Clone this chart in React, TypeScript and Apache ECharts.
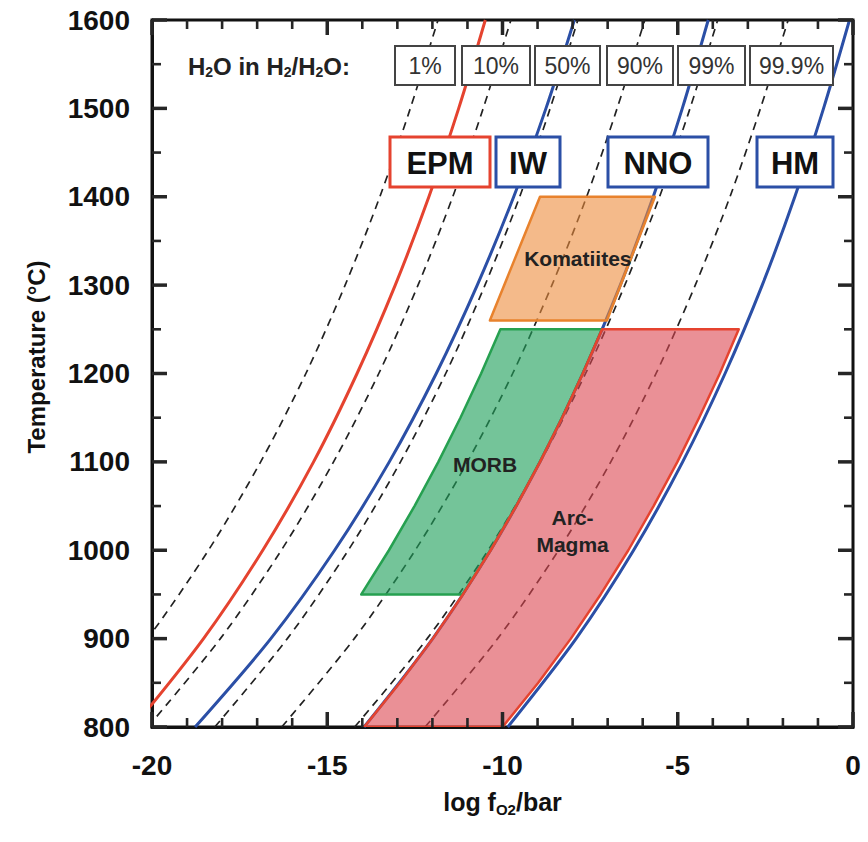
import React, { useEffect, useRef } from "react";
import * as echarts from "echarts";

// Temperatures (°C) at which the curves are read
const temps = [800, 900, 1000, 1100, 1200, 1300, 1400, 1500, 1600];

// Oxygen buffers, log fO2 (bar)
const epm = [-20.53, -18.53, -16.84, -15.39, -14.15, -13.06, -12.1, -11.25, -10.49];
const iw = [-18.77, -16.61, -14.79, -13.23, -11.89, -10.72, -9.68, -8.76, -7.95];
const nno = [-13.95, -11.99, -10.34, -8.93, -7.71, -6.64, -5.7, -4.87, -4.13];
const hm = [-9.85, -7.9, -6.26, -4.86, -3.65, -2.59, -1.66, -0.84, -0.1];

// H2O in H2/H2O isopleths, log fO2 (bar)
const h2o1 = [-22.2, -20.13, -18.39, -16.9, -15.61, -14.49, -13.5, -12.63, -11.84];
const h2o10 = [-20.12, -18.05, -16.31, -14.82, -13.53, -12.41, -11.42, -10.55, -9.76];
const h2o50 = [-18.21, -16.14, -14.4, -12.91, -11.62, -10.5, -9.51, -8.64, -7.85];
const h2o90 = [-16.3, -14.23, -12.49, -11.0, -9.71, -8.59, -7.6, -6.73, -5.94];
const h2o99 = [-14.22, -12.15, -10.41, -8.92, -7.63, -6.51, -5.52, -4.65, -3.86];
const h2o999 = [-12.21, -10.14, -8.4, -6.91, -5.62, -4.5, -3.51, -2.64, -1.85];

// Magma fields: [log fO2, T]
const komatiites = [
  [-8.93, 1400],
  [-5.65, 1400],
  [-7.02, 1260],
  [-10.36, 1260],
];
const morb = [
  [-10.06, 1250],
  [-7.16, 1250],
  [-7.71, 1200],
  [-8.3, 1150],
  [-8.93, 1100],
  [-9.61, 1050],
  [-10.34, 1000],
  [-11.13, 950],
  [-14.03, 950],
  [-13.24, 1000],
  [-12.51, 1050],
  [-11.83, 1100],
  [-11.2, 1150],
  [-10.61, 1200],
];
const arcMagma = [
  [-7.16, 1250],
  [-3.26, 1250],
  [-3.8, 1200],
  [-4.39, 1150],
  [-5.01, 1100],
  [-5.69, 1050],
  [-6.41, 1000],
  [-7.2, 950],
  [-8.05, 900],
  [-8.98, 850],
  [-10.0, 800],
  [-13.95, 800],
  [-12.93, 850],
  [-11.99, 900],
  [-11.13, 950],
  [-10.34, 1000],
  [-9.61, 1050],
  [-8.93, 1100],
  [-8.3, 1150],
  [-7.71, 1200],
];

const fieldLabels = ["Komatiites", "MORB", "Arc-\nMagma"];
const fieldLabelPos = [
  [-7.85, 1330],
  [-10.5, 1097],
  [-8.0, 1022],
];

// Tick values
const xMajorTicks = [-20, -15, -10, -5, 0];
const xMinorTicks = [-19, -18, -17, -16, -14, -13, -12, -11, -9, -8, -7, -6, -4, -3, -2, -1];
const yMajorTicks = [800, 900, 1000, 1100, 1200, 1300, 1400, 1500, 1600];
const yMinorTicks = [850, 950, 1050, 1150, 1250, 1350, 1450, 1550];

const h2oLabels = ["1%", "10%", "50%", "90%", "99%", "99.9%"];
const bufferLabels = ["EPM", "IW", "NNO", "HM"];

const RED = "#e5432f";
const BLUE = "#2b4fa6";
const INK = "#111";
const TICK = "#262626";
const FONT = "'Liberation Sans', Arial, sans-serif";

const toXY = (arr: number[]) => temps.map((t, i) => [arr[i], t]);

export default function App() {
  const ref = useRef<HTMLDivElement>(null);
  useEffect(() => {
    document.body.style.margin = "0";
    const chart = echarts.init(ref.current!, null, { renderer: "svg" });

    const bufferLine = (name: string, arr: number[], color: string) => ({
      type: "line",
      name,
      data: toXY(arr),
      smooth: 0.3,
      symbol: "none",
      clip: true,
      z: 3,
      lineStyle: { color, width: 3 },
    });
    const dashLine = (name: string, arr: number[]) => ({
      type: "line",
      name,
      data: toXY(arr),
      smooth: 0.3,
      symbol: "none",
      clip: true,
      z: 2,
      lineStyle: { color: "#222", width: 1.7, type: [8, 6] },
    });
    const field = (name: string, pts: number[][], fill: string, stroke: string) => ({
      type: "custom",
      name,
      coordinateSystem: "cartesian2d",
      clip: true,
      z: 4,
      data: [pts[0]],
      renderItem: (_p: any, api: any) => ({
        type: "polygon",
        shape: { points: pts.map((p) => api.coord(p)) },
        style: { fill, stroke, lineWidth: 2.5, lineJoin: "round" },
      }),
    });

    // ticks on all four frame edges, placed through the axes' scales
    const tickSeries = {
      type: "custom",
      name: "ticks",
      coordinateSystem: "cartesian2d",
      z: 10,
      data: [[-10, 1200]],
      renderItem: (_p: any, api: any) => {
        const children: any[] = [];
        const seg = (x1: number, y1: number, x2: number, y2: number, w: number) => {
          children.push({
            type: "line",
            shape: { x1, y1, x2, y2 },
            style: { stroke: TICK, lineWidth: w },
          });
        };
        const xt = (v: number, len: number, w: number) => {
          const t = api.coord([v, 1600]);
          const b = api.coord([v, 800]);
          seg(t[0], t[1], t[0], t[1] + len, w);
          seg(b[0], b[1], b[0], b[1] - len, w);
        };
        const yt = (v: number, len: number, w: number) => {
          const r = api.coord([0, v]);
          const l = api.coord([-20, v]);
          seg(r[0], r[1], r[0] - len, r[1], w);
          seg(l[0], l[1], l[0] + len, l[1], w);
        };
        xMajorTicks.forEach((v) => xt(v, 15, 3.5));
        xMinorTicks.forEach((v) => xt(v, 9, 2.6));
        yMajorTicks.forEach((v) => yt(v, 15, 3.5));
        yMinorTicks.forEach((v) => yt(v, 9, 2.6));
        return { type: "group", children };
      },
    };

    const h2oBoxX = [395, 462, 535, 607, 678, 750];
    const h2oBoxW = [60, 68, 65, 66, 67, 83];
    const bufX = [390, 496, 608, 757];
    const bufW = [100, 64, 100, 76];
    const bufColor = [RED, BLUE, BLUE, BLUE];

    const graphics: any[] = [];
    h2oLabels.forEach((l, i) => {
      graphics.push({
        type: "rect",
        z: 100,
        shape: { x: h2oBoxX[i], y: 46, width: h2oBoxW[i], height: 39 },
        style: { fill: "#fff", stroke: "#444", lineWidth: 2 },
      });
      graphics.push({
        type: "text",
        z: 101,
        x: h2oBoxX[i] + h2oBoxW[i] / 2,
        y: 66,
        style: {
          text: l,
          fill: "#333",
          font: `23px ${FONT}`,
          align: "center",
          verticalAlign: "middle",
        },
      });
    });
    graphics.push({
      type: "text",
      z: 101,
      x: 188,
      y: 66,
      style: {
        text: "H{s|2}O in H{s|2}/H{s|2}O:",
        fill: "#222",
        fontFamily: FONT,
        fontWeight: "bold",
        fontSize: 24,
        verticalAlign: "middle",
        rich: {
          s: { fontSize: 14, fontWeight: "bold", fontFamily: FONT, padding: [12, 0, 0, 0] },
        },
      },
    });
    graphics.push({
      type: "text",
      z: 101,
      x: 36,
      y: 357,
      rotation: Math.PI / 2,
      style: {
        text: "Temperature (°C)",
        fill: INK,
        fontFamily: FONT,
        fontWeight: "bold",
        fontSize: 24,
        align: "center",
        verticalAlign: "middle",
      },
    });
    bufferLabels.forEach((l, i) => {
      graphics.push({
        type: "rect",
        z: 100,
        shape: { x: bufX[i], y: 137, width: bufW[i], height: 50 },
        style: { fill: "#fff", stroke: bufColor[i], lineWidth: 3 },
      });
      graphics.push({
        type: "text",
        z: 101,
        x: bufX[i] + bufW[i] / 2,
        y: 163,
        style: {
          text: l,
          fill: INK,
          fontFamily: FONT,
          fontWeight: "bold",
          fontSize: 31,
          align: "center",
          verticalAlign: "middle",
        },
      });
    });

    chart.setOption({
      animation: false,
      grid: {
        left: 152,
        right: 15,
        top: 20,
        bottom: 115,
        show: true,
        borderColor: INK,
        borderWidth: 3,
        backgroundColor: "transparent",
      },
      xAxis: {
        type: "value",
        position: "bottom",
        min: -20,
        max: 0,
        interval: 5,
        axisLine: { show: true, onZero: false, lineStyle: { color: INK, width: 3 } },
        axisTick: { show: false },
        minorTick: { show: false },
        splitLine: { show: false },
        axisLabel: {
          color: INK,
          fontFamily: FONT,
          fontWeight: "bold",
          fontSize: 28,
          margin: 24,
          formatter: (v: number) => String(v),
        },
        name: "log f{sub|O2}/bar",
        nameLocation: "middle",
        nameGap: 60,
        nameTextStyle: {
          color: INK,
          fontFamily: FONT,
          fontWeight: "bold",
          fontSize: 25,
          rich: {
            sub: { fontFamily: FONT, fontWeight: "bold", fontSize: 15, padding: [15, 0, 0, 0] },
          },
        },
      },
      yAxis: {
        type: "value",
        position: "left",
        min: 800,
        max: 1600,
        interval: 100,
        axisLine: { show: true, onZero: false, lineStyle: { color: INK, width: 3 } },
        axisTick: { show: false },
        minorTick: { show: false },
        splitLine: { show: false },
        axisLabel: {
          color: INK,
          fontFamily: FONT,
          fontWeight: "bold",
          fontSize: 28,
          margin: 22,
          formatter: (v: number) => String(v),
        },
      },
      series: [
        dashLine("1%", h2o1),
        dashLine("10%", h2o10),
        dashLine("50%", h2o50),
        dashLine("90%", h2o90),
        dashLine("99%", h2o99),
        dashLine("99.9%", h2o999),
        bufferLine("EPM", epm, RED),
        bufferLine("IW", iw, BLUE),
        bufferLine("NNO", nno, BLUE),
        bufferLine("HM", hm, BLUE),
        field("Komatiites", komatiites, "rgba(236,140,60,0.6)", "#e8822d"),
        field("MORB", morb, "rgba(30,160,90,0.62)", "#26a050"),
        field("Arc-Magma", arcMagma, "rgba(220,70,80,0.6)", RED),
        {
          type: "custom",
          name: "labels",
          coordinateSystem: "cartesian2d",
          z: 6,
          data: fieldLabelPos,
          renderItem: (p: any, api: any) => {
            const c = api.coord([api.value(0), api.value(1)]);
            return {
              type: "text",
              x: c[0],
              y: c[1],
              style: {
                text: fieldLabels[p.dataIndex],
                fill: "#222",
                fontFamily: FONT,
                fontWeight: "bold",
                fontSize: 21,
                lineHeight: 27,
                align: "center",
                verticalAlign: "middle",
              },
            };
          },
        },
        tickSeries,
      ],
      graphic: graphics,
    });
    return () => chart.dispose();
  }, []);
  return <div ref={ref} style={{ position: "absolute", left: 0, top: 0, width: 868, height: 842 }} />;
}
